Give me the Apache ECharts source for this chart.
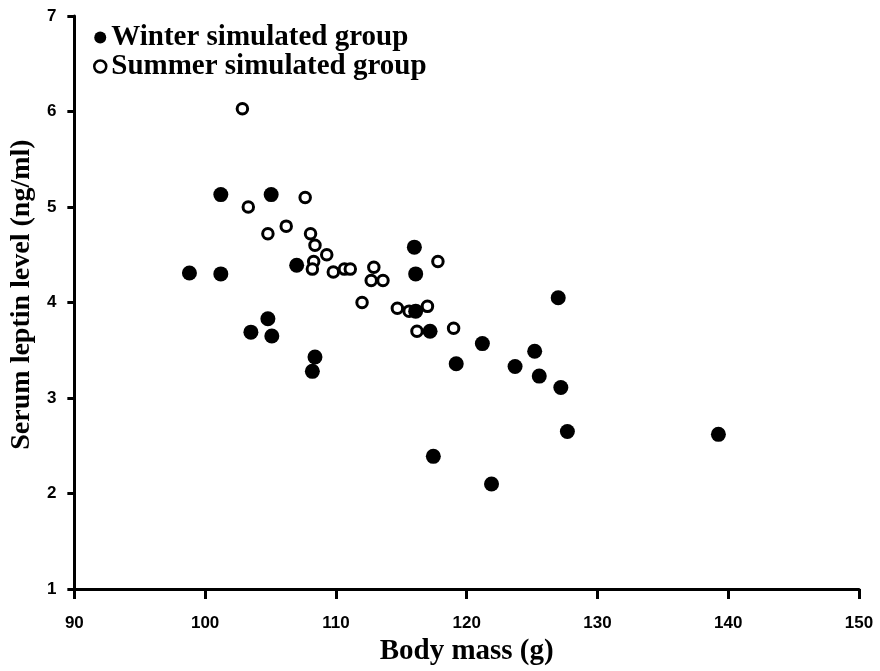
<!DOCTYPE html>
<html>
<head>
<meta charset="utf-8">
<script src="https://cdn.jsdelivr.net/npm/echarts@6/dist/echarts.min.js"></script>
<style>
  html, body { margin: 0; padding: 0; background: #fff; }
  #chart { width: 880px; height: 671px; }
</style>
</head>
<body>
<div id="chart"></div>
<script>
// body mass (g) / serum leptin (ng/ml)
const winterMass = [101.2, 105.05, 98.8, 101.2, 107.0, 116.0, 116.1, 104.8, 103.5, 105.1, 108.4, 108.2, 116.1, 117.2, 119.2, 127.0, 121.2, 125.2, 123.7, 125.55, 127.2, 127.7, 117.45, 121.9, 139.25]
const winterLeptin = [5.13, 5.13, 4.31, 4.30, 4.39, 4.58, 4.30, 3.83, 3.69, 3.65, 3.43, 3.28, 3.91, 3.70, 3.36, 4.05, 3.57, 3.49, 3.33, 3.23, 3.11, 2.65, 2.39, 2.10, 2.62]
const summerMass = [102.85, 103.3, 107.65, 104.8, 106.2, 108.06, 108.4, 109.3, 108.3, 108.2, 109.8, 110.65, 111.1, 112.9, 112.7, 113.6, 117.8, 112.0, 114.7, 115.6, 117.0, 116.2, 119.0]
const summerLeptin = [6.03, 5.0, 5.10, 4.72, 4.80, 4.72, 4.60, 4.50, 4.43, 4.35, 4.32, 4.35, 4.35, 4.37, 4.23, 4.23, 4.43, 4.0, 3.94, 3.91, 3.96, 3.70, 3.73]
const groupNames = ['Winter simulated group', 'Summer simulated group']

const serif = "'Liberation Serif', 'Times New Roman', serif"
const sans = "'Liberation Sans Narrow', 'Liberation Sans', Arial, sans-serif"

const pairs = (xs, ys) => xs.map((x, i) => [x, ys[i]])

const chart = echarts.init(document.getElementById('chart'))
chart.setOption({
  animation: false,
  grid: { left: 74, right: 21, top: 16, bottom: 80 },
  legend: {
    orient: 'vertical',
    left: 88,
    top: 18,
    itemWidth: 12,
    itemHeight: 12,
    itemGap: 0,
    textStyle: { fontFamily: serif, fontWeight: 'bold', fontSize: 29, lineHeight: 27, color: '#000' },
    data: [
      { name: groupNames[0], icon: 'circle', itemStyle: { color: '#000' } },
      { name: groupNames[1], icon: 'circle', itemStyle: { color: '#fff', borderColor: '#000', borderWidth: 2.5 } }
    ]
  },
  xAxis: {
    type: 'value',
    min: 90,
    max: 150,
    interval: 10,
    name: 'Body mass (g)',
    nameLocation: 'middle',
    nameGap: 45,
    nameTextStyle: { fontFamily: serif, fontWeight: 'bold', fontSize: 29, color: '#000' },
    splitLine: { show: false },
    axisLine: { lineStyle: { color: '#000', width: 3 } },
    axisTick: { length: 10, lineStyle: { color: '#000', width: 3 } },
    axisLabel: { margin: 26, fontFamily: sans, fontWeight: 'bold', fontSize: 17, color: '#000' }
  },
  yAxis: {
    type: 'value',
    min: 1,
    max: 7,
    interval: 1,
    name: 'Serum leptin level (ng/ml)',
    nameLocation: 'middle',
    nameGap: 32,
    nameTextStyle: { fontFamily: serif, fontWeight: 'bold', fontSize: 28, color: '#000', padding: [0, 0, 0, 16] },
    splitLine: { show: false },
    axisLine: { show: true, lineStyle: { color: '#000', width: 3 } },
    axisTick: { show: true, length: 7, lineStyle: { color: '#000', width: 3 } },
    axisLabel: { margin: 18, fontFamily: sans, fontWeight: 'bold', fontSize: 17, color: '#000' }
  },
  series: [
    {
      name: groupNames[1],
      type: 'scatter',
      symbol: 'circle',
      symbolSize: 10.5,
      itemStyle: { color: '#fff', borderColor: '#000', borderWidth: 3, opacity: 1 },
      data: pairs(summerMass, summerLeptin)
    },
    {
      name: groupNames[0],
      type: 'scatter',
      symbol: 'circle',
      symbolSize: 15,
      itemStyle: { color: '#000', opacity: 1 },
      data: pairs(winterMass, winterLeptin)
    }
  ]
})
</script>
</body>
</html>
